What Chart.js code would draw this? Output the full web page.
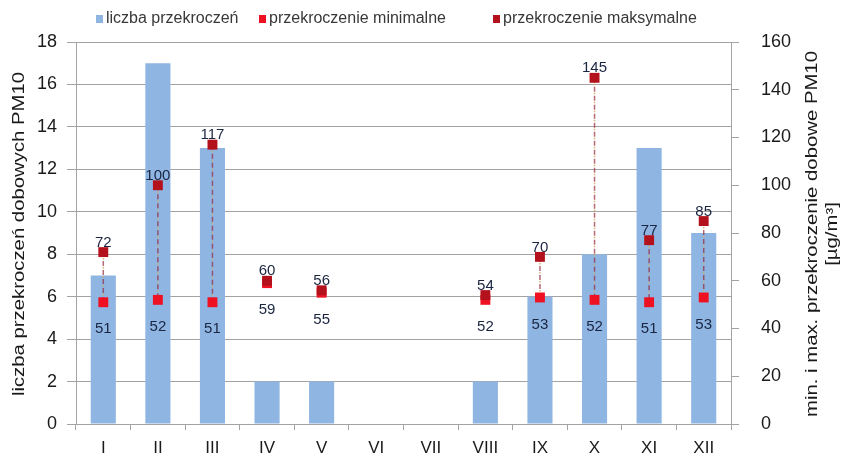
<!DOCTYPE html>
<html><head><meta charset="utf-8">
<script src="https://cdn.jsdelivr.net/npm/chart.js@4.4.1/dist/chart.umd.min.js"></script>
<style>html,body{margin:0;padding:0;background:#fff;overflow:hidden}#wrap{width:847px;height:468px;position:relative}</style>
</head><body>
<div id="wrap"><canvas id="c" width="847" height="468"></canvas></div>
<script>
// ---- data ----
const months = ['I','II','III','IV','V','VI','VII','VIII','IX','X','XI','XII'];
const exceedCount = [7,17,13,2,2,0,0,2,6,8,13,9];
const minExceed = [51,52,51,59,55,null,null,52,53,52,51,53];
const maxExceed = [72,100,117,60,56,null,null,54,70,145,77,85];
const seriesNames = ['liczba przekroczeń','przekroczenie minimalne','przekroczenie maksymalne'];
const leftTitle = 'liczba przekroczeń dobowych PM10';
const rightTitle = ['min. i max. przekroczenie dobowe PM10','[µg/m³]'];

const FONT = '"Liberation Sans", Arial, sans-serif';
const BAR = '#8fb5e3', MINC = '#ee1122', MAXC = '#b3121c';
const TXT = '#1a1a1a', GRID = '#a3a3a3';

const hiLoPlugin = {
  id: 'hilo',
  afterDatasetDraw(chart, args) {
    if (args.meta.type !== 'bar') return;
    const x = chart.scales.x, y1 = chart.scales.y1, ctx = chart.ctx;
    ctx.save();
    ctx.lineWidth = 1.5;
    for (let i = 0; i < months.length; i++) {
      if (minExceed[i] == null || maxExceed[i] == null) continue;
      const px = x.getPixelForValue(i);
      const a = y1.getPixelForValue(maxExceed[i]), b = y1.getPixelForValue(minExceed[i]);
      ctx.setLineDash([5, 4]);
      ctx.strokeStyle = 'rgba(150,40,60,0.7)';
      ctx.beginPath(); ctx.moveTo(px, a); ctx.lineTo(px, b); ctx.stroke();
      ctx.setLineDash([1.5, 7.5]);
      ctx.lineDashOffset = -6;
      ctx.strokeStyle = 'rgba(205,175,95,0.9)';
      ctx.beginPath(); ctx.moveTo(px, a); ctx.lineTo(px, b); ctx.stroke();
      ctx.lineDashOffset = 0;
    }
    ctx.restore();
  }
};

const labelPlugin = {
  id: 'vlabels',
  afterDatasetsDraw(chart) {
    const ctx = chart.ctx;
    const minMeta = chart.getDatasetMeta(1), maxMeta = chart.getDatasetMeta(2);
    ctx.save();
    ctx.font = '15px ' + FONT;
    ctx.fillStyle = '#1b2540';
    ctx.textAlign = 'center';
    for (let i = 0; i < months.length; i++) {
      if (maxExceed[i] != null) {
        const p = maxMeta.data[i];
        ctx.textBaseline = 'bottom';
        ctx.fillText(String(maxExceed[i]), p.x, p.y - 2);
      }
      if (minExceed[i] != null) {
        const p = minMeta.data[i];
        ctx.textBaseline = 'middle';
        ctx.fillText(String(minExceed[i]), p.x, p.y + 27);
      }
    }
    ctx.restore();
  }
};

function stretchedRotated(ctx, text, cx, cy, size, stretch) {
  ctx.save();
  ctx.translate(cx, cy);
  ctx.rotate(-Math.PI / 2);
  ctx.scale(stretch, 1);
  ctx.font = size + 'px ' + FONT;
  ctx.textAlign = 'center';
  ctx.textBaseline = 'middle';
  ctx.fillText(text, 0, 0);
  ctx.restore();
}

const extrasPlugin = {
  id: 'extras',
  afterDraw(chart) {
    const ctx = chart.ctx;
    ctx.save();
    // legend
    const lx = [96, 259, 493];
    ctx.font = '16px ' + FONT;
    ctx.textBaseline = 'middle';
    ctx.textAlign = 'left';
    chart.data.datasets.forEach((ds, k) => {
      ctx.fillStyle = ds.backgroundColor;
      ctx.fillRect(lx[k], 15, 7, 8);
      ctx.fillStyle = '#383838';
      ctx.fillText(ds.label, lx[k] + 10, 19);
    });
    // axis titles (both read bottom-to-top)
    ctx.fillStyle = TXT;
    stretchedRotated(ctx, leftTitle, 20, 234, 16, 1.27);
    stretchedRotated(ctx, rightTitle[0], 813, 234, 16, 1.27);
    stretchedRotated(ctx, rightTitle[1], 833, 234, 16, 1.27);
    ctx.restore();
  }
};

new Chart(document.getElementById('c'), {
  data: {
    labels: months,
    datasets: [
      { type: 'bar', label: seriesNames[0], data: exceedCount, backgroundColor: BAR, yAxisID: 'y',
        barPercentage: 0.46, categoryPercentage: 1, order: 3 },
      { type: 'line', label: seriesNames[1], data: minExceed, yAxisID: 'y1', showLine: false,
        pointStyle: 'rect', pointRadius: 7, pointHoverRadius: 7, backgroundColor: MINC, borderColor: MINC, borderWidth: 0, order: 2 },
      { type: 'line', label: seriesNames[2], data: maxExceed, yAxisID: 'y1', showLine: false,
        pointStyle: 'rect', pointRadius: 7, pointHoverRadius: 7, backgroundColor: MAXC, borderColor: MAXC, borderWidth: 0, order: 1 }
    ]
  },
  options: {
    responsive: false,
    animation: false,
    devicePixelRatio: 1,
    layout: { padding: { top: 42, left: 0, right: 0, bottom: 0 } },
    plugins: { legend: { display: false }, tooltip: { enabled: false } },
    scales: {
      x: {
        grid: { display: true, offset: true, drawOnChartArea: false, color: GRID, tickLength: 6 },
        border: { color: GRID },
        ticks: { color: TXT, font: { size: 17, family: FONT }, padding: 8 },
        afterFit(s) { s.height = 44; }
      },
      y: {
        position: 'left', min: 0, max: 18,
        ticks: { stepSize: 2, color: TXT, font: { size: 18, family: FONT }, padding: 10 },
        grid: { color: GRID, tickLength: 9 },
        border: { color: GRID },
        afterFit(s) { s.width = 76; }
      },
      y1: {
        position: 'right', min: 0, max: 160,
        ticks: { stepSize: 20, color: TXT, font: { size: 18, family: FONT }, padding: 22 },
        grid: { drawOnChartArea: false, color: GRID, tickLength: 8 },
        border: { color: GRID },
        afterFit(s) { s.width = 116; }
      }
    }
  },
  plugins: [hiLoPlugin, labelPlugin, extrasPlugin]
});
</script>
</body></html>
